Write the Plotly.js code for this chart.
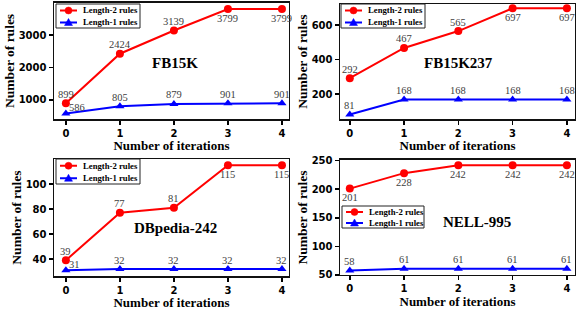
<!DOCTYPE html>
<html>
<head>
<meta charset="utf-8">
<script src="https://cdn.plot.ly/plotly-3.0.1.min.js"></script>
<style>html,body{margin:0;padding:0;background:#fff}#chart{width:576px;height:315px}</style>
</head>
<body>
<div id="chart"></div>
<script>
const iterations = [0, 1, 2, 3, 4];
const datasets = ["FB15K", "FB15K237", "DBpedia-242", "NELL-995"];
const len2_FB15K = [899, 2424, 3139, 3799, 3799];
const len1_FB15K = [586, 805, 879, 901, 901];
const len2_FB15K237 = [292, 467, 565, 697, 697];
const len1_FB15K237 = [81, 168, 168, 168, 168];
const len2_DBpedia = [39, 77, 81, 115, 115];
const len1_DBpedia = [31, 32, 32, 32, 32];
const len2_NELL = [201, 228, 242, 242, 242];
const len1_NELL = [58, 61, 61, 61, 61];
const seriesNames = ["Length-2 rules", "Length-1 rules"];
const seriesColors = ["#ff0000", "#0000ff"];
const xTitle = "Number of iterations";
const yTitle = "Number of rules";

const len2 = [len2_FB15K, len2_FB15K237, len2_DBpedia, len2_NELL];
const len1 = [len1_FB15K, len1_FB15K237, len1_DBpedia, len1_NELL];

const W = 576, H = 315;
const serif = "Liberation Serif, Times New Roman, serif";
const sans = "DejaVu Sans, sans-serif";

// label placement: t = above, b = below, r = right of the point
const red2Pos = [["t","t","t","b","b"],["t","t","t","b","b"],["t","t","t","b","b"],["b","b","b","b","b"]];
const blue1Pos = [["r","t","t","t","t"],["t","t","t","t","t"],["r","t","t","t","t"],["t","t","t","t","t"]];
const rightShift = [6, 0, 6, 0];

const xDomains = [[0.09375, 0.5017], [0.5903, 0.9983], [0.09375, 0.5017], [0.5903, 0.9983]];
const yDomains = [[0.6222, 0.9905], [0.6222, 0.9873], [0.1238, 0.4952], [0.127, 0.4921]];
const xRanges = [[-0.22, 4.13], [-0.18, 4.15], [-0.22, 4.13], [-0.18, 4.15]];
const yRanges = [[415, 3985], [55, 722], [26.4, 120], [50, 251]];
const yTicks = [[1000, 2000, 3000], [200, 400, 600], [40, 60, 80, 100], [50, 100, 150, 200, 250]];
// legend boxes in pixels: left, top, width, height
const legendBox = [[56, 4, 84, 24], [341, 4, 84, 24], [56, 159, 84, 25], [342, 206, 82, 22]];
const titlePos = [[0.515, 0.483], [0.506, 0.487], [0.519, 0.41], [0.583, 0.46]];

const px = v => v / W;
const py = v => 1 - v / H;

const data = [];
const layout = {
  width: W, height: H,
  margin: {l: 0, r: 0, t: 0, b: 0},
  paper_bgcolor: "#fff", plot_bgcolor: "#fff",
  showlegend: false,
  annotations: [],
  shapes: []
};

function addLabels(ax, ay, xs, ys, pos, rs) {
  xs.forEach((xv, j) => {
    const p = pos[j];
    const a = {
      xref: ax, yref: ay, x: xv, y: ys[j], text: String(ys[j]), showarrow: false,
      font: {family: serif, size: 10.5, color: "#404040"}, yanchor: "middle"
    };
    if (p === "t") { a.xanchor = "center"; a.yshift = 9; }
    else if (p === "b") { a.xanchor = "center"; a.yshift = -9; }
    else { a.xanchor = "left"; a.xshift = 1; a.yshift = rs; }
    layout.annotations.push(a);
  });
}

for (let i = 0; i < 4; i++) {
  const s = i === 0 ? "" : String(i + 1);
  data.push({
    x: iterations, y: len2[i], xaxis: "x" + s, yaxis: "y" + s,
    type: "scatter", mode: "lines+markers", name: seriesNames[0],
    line: {color: seriesColors[0], width: 2},
    marker: {color: seriesColors[0], size: 8, symbol: "circle"},
    cliponaxis: false
  });
  data.push({
    x: iterations, y: len1[i], xaxis: "x" + s, yaxis: "y" + s,
    type: "scatter", mode: "lines+markers", name: seriesNames[1],
    line: {color: seriesColors[1], width: 2},
    marker: {color: seriesColors[1], size: 8, symbol: "triangle-up"},
    cliponaxis: false
  });
  addLabels("x" + s, "y" + s, iterations, len2[i], red2Pos[i], rightShift[i]);
  addLabels("x" + s, "y" + s, iterations, len1[i], blue1Pos[i], rightShift[i]);

  layout["xaxis" + s] = {
    domain: xDomains[i], anchor: "y" + s, range: xRanges[i],
    tickvals: iterations, ticks: "outside", ticklen: 4, tickwidth: 1.5, tickcolor: "#000",
    showline: true, linecolor: "#111", linewidth: 1.5, mirror: true,
    showgrid: false, zeroline: false,
    tickfont: {family: sans, size: 10, color: "#000", weight: "bold"},
    title: {text: xTitle, font: {family: serif, size: 13, color: "#000", weight: "bold"}, standoff: 2}
  };
  layout["yaxis" + s] = {
    domain: yDomains[i], anchor: "x" + s, range: yRanges[i],
    tickvals: yTicks[i], ticks: "outside", ticklen: 4, tickwidth: 1.5, tickcolor: "#000",
    showline: true, linecolor: "#111", linewidth: 1.5, mirror: true,
    showgrid: false, zeroline: false,
    tickfont: {family: sans, size: 10, color: "#000", weight: "bold"},
    title: {text: yTitle, font: {family: serif, size: 13.5, color: "#000", weight: "bold"}, standoff: 1}
  };
  layout.annotations.push({
    xref: "x" + s + " domain", yref: "y" + s + " domain",
    x: titlePos[i][0], y: titlePos[i][1], showarrow: false,
    text: datasets[i],
    font: {family: serif, size: 15, color: "#000", weight: "bold"}
  });

  // compact legend box drawn with shapes + text
  const [L, Tp, Wd, Ht] = legendBox[i];
  layout.shapes.push({
    type: "rect", xref: "paper", yref: "paper", layer: "above",
    x0: px(L), x1: px(L + Wd), y0: py(Tp + Ht), y1: py(Tp),
    line: {color: "#222", width: 1}, fillcolor: "#fff"
  });
  const rowH = Ht / 2;
  for (let k = 0; k < 2; k++) {
    const cy = Tp + rowH * k + rowH / 2 + 0.5;
    const col = seriesColors[k];
    layout.shapes.push({
      type: "line", xref: "paper", yref: "paper", layer: "above",
      x0: px(L + 4), x1: px(L + 21), y0: py(cy), y1: py(cy),
      line: {color: col, width: 2}
    });
    const mx = L + 12.5;
    if (k === 0) {
      layout.shapes.push({
        type: "circle", xref: "paper", yref: "paper", layer: "above",
        x0: px(mx - 3.5), x1: px(mx + 3.5), y0: py(cy + 3.5), y1: py(cy - 3.5),
        fillcolor: col, line: {color: col, width: 0.5}
      });
    } else {
      layout.shapes.push({
        type: "path", xref: "paper", yref: "paper", layer: "above",
        path: `M${px(mx - 4)},${py(cy + 3)} L${px(mx + 4)},${py(cy + 3)} L${px(mx)},${py(cy - 4)} Z`,
        fillcolor: col, line: {color: col, width: 0.5}
      });
    }
    layout.annotations.push({
      xref: "paper", yref: "paper", x: px(L + 25), y: py(cy),
      xanchor: "left", yanchor: "middle", showarrow: false,
      text: seriesNames[k],
      font: {family: serif, size: 8.7, color: "#000", weight: "bold"}
    });
  }
}

Plotly.newPlot("chart", data, layout, {displayModeBar: false, staticPlot: true});
</script>
</body>
</html>
